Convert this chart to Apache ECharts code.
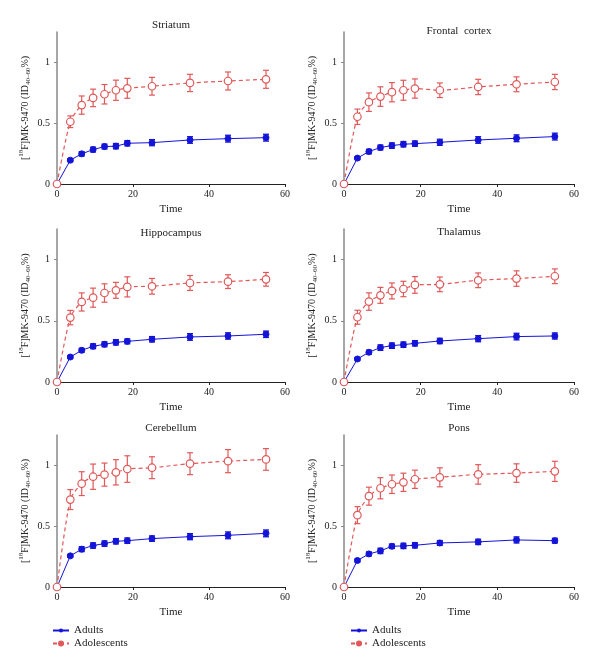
<!DOCTYPE html>
<html>
<head>
<meta charset="utf-8">
<script src="https://cdn.jsdelivr.net/npm/echarts@6/dist/echarts.min.js"></script>
<style>
  html, body { margin: 0; padding: 0; background: #fff; }
  #main { width: 600px; height: 668px; }
</style>
</head>
<body>
<div id="main"></div>
<script>
// sampling times (min)
const time = [0, 3.5, 6.5, 9.5, 12.5, 15.5, 18.5, 25, 35, 45, 55];
const regions = ["Striatum", "Frontal  cortex", "Hippocampus", "Thalamus", "Cerebellum", "Pons"];
const xTicks = [0, 20, 40, 60];
const yTicks = [0, 0.5, 1];

// adults: mean and +/- error
const adultsStriatum = [0, 0.196, 0.248, 0.283, 0.308, 0.311, 0.335, 0.34, 0.362, 0.373, 0.381];
const adultsStriatumErr = [0, 0.012, 0.018, 0.02, 0.02, 0.022, 0.022, 0.025, 0.027, 0.028, 0.028];
const adultsFrontal = [0, 0.213, 0.267, 0.3, 0.316, 0.327, 0.332, 0.343, 0.362, 0.376, 0.39];
const adultsFrontalErr = [0, 0.012, 0.018, 0.02, 0.022, 0.022, 0.022, 0.025, 0.027, 0.028, 0.028];
const adultsHippo = [0, 0.204, 0.259, 0.292, 0.308, 0.324, 0.332, 0.349, 0.368, 0.376, 0.39];
const adultsHippoErr = [0, 0.012, 0.016, 0.02, 0.02, 0.022, 0.02, 0.022, 0.027, 0.026, 0.026];
const adultsThalamus = [0, 0.188, 0.243, 0.281, 0.297, 0.305, 0.316, 0.335, 0.354, 0.371, 0.376];
const adultsThalamusErr = [0, 0.012, 0.016, 0.022, 0.022, 0.022, 0.022, 0.022, 0.025, 0.027, 0.025];
const adultsCerebellum = [0, 0.256, 0.311, 0.341, 0.357, 0.376, 0.381, 0.398, 0.414, 0.425, 0.441];
const adultsCerebellumErr = [0, 0.012, 0.02, 0.022, 0.022, 0.022, 0.022, 0.022, 0.025, 0.028, 0.028];
const adultsPons = [0, 0.218, 0.272, 0.297, 0.335, 0.338, 0.343, 0.362, 0.371, 0.387, 0.381];
const adultsPonsErr = [0, 0.012, 0.016, 0.022, 0.018, 0.022, 0.022, 0.02, 0.022, 0.025, 0.02];

// adolescents: mean and +/- error
const adolStriatum = [0, 0.512, 0.649, 0.708, 0.738, 0.771, 0.787, 0.804, 0.831, 0.847, 0.861];
const adolStriatumErr = [0, 0.048, 0.075, 0.072, 0.08, 0.083, 0.082, 0.073, 0.071, 0.074, 0.074];
const adolFrontal = [0, 0.553, 0.673, 0.719, 0.755, 0.771, 0.785, 0.771, 0.798, 0.82, 0.839];
const adolFrontalErr = [0, 0.063, 0.076, 0.08, 0.079, 0.082, 0.079, 0.06, 0.063, 0.061, 0.063];
const adolHippo = [0, 0.526, 0.654, 0.689, 0.727, 0.749, 0.777, 0.782, 0.809, 0.82, 0.839];
const adolHippoErr = [0, 0.059, 0.074, 0.078, 0.075, 0.065, 0.082, 0.064, 0.061, 0.056, 0.056];
const adolThalamus = [0, 0.529, 0.657, 0.708, 0.744, 0.76, 0.793, 0.798, 0.831, 0.845, 0.864];
const adolThalamusErr = [0, 0.057, 0.071, 0.065, 0.065, 0.063, 0.068, 0.06, 0.06, 0.063, 0.06];
const adolCerebellum = [0, 0.719, 0.85, 0.907, 0.924, 0.943, 0.97, 0.981, 1.014, 1.035, 1.049];
const adolCerebellumErr = [0, 0.082, 0.098, 0.104, 0.095, 0.104, 0.109, 0.09, 0.09, 0.095, 0.089];
const adolPons = [0, 0.591, 0.747, 0.812, 0.845, 0.861, 0.886, 0.902, 0.926, 0.937, 0.951];
const adolPonsErr = [0, 0.07, 0.074, 0.087, 0.076, 0.075, 0.075, 0.078, 0.08, 0.076, 0.083];

const adultsAll = [adultsStriatum, adultsFrontal, adultsHippo, adultsThalamus, adultsCerebellum, adultsPons];
const adultsErrAll = [adultsStriatumErr, adultsFrontalErr, adultsHippoErr, adultsThalamusErr, adultsCerebellumErr, adultsPonsErr];
const adolAll = [adolStriatum, adolFrontal, adolHippo, adolThalamus, adolCerebellum, adolPons];
const adolErrAll = [adolStriatumErr, adolFrontalErr, adolHippoErr, adolThalamusErr, adolCerebellumErr, adolPonsErr];

const font = "Liberation Serif";
const blue = "#1414d8";
const red = "#e05858";

const boxes = [
  { left: 57, top: 32, width: 228, height: 152 },
  { left: 344, top: 32, width: 230, height: 152 },
  { left: 57, top: 229, width: 228, height: 153 },
  { left: 344, top: 229, width: 230, height: 153 },
  { left: 57, top: 435, width: 228, height: 152 },
  { left: 344, top: 435, width: 230, height: 152 },
];
const titleY = [25, 31, 233, 232, 428, 428];

function errorBars(color, lw) {
  return function (params, api) {
    const x = api.value(0);
    const lo = api.coord([x, api.value(1)]);
    const hi = api.coord([x, api.value(2)]);
    const w = 3;
    const style = { stroke: color, lineWidth: lw, fill: null };
    return {
      type: "group",
      children: [
        { type: "line", shape: { x1: lo[0], y1: lo[1], x2: hi[0], y2: hi[1] }, style },
        { type: "line", shape: { x1: lo[0] - w, y1: lo[1], x2: lo[0] + w, y2: lo[1] }, style },
        { type: "line", shape: { x1: hi[0] - w, y1: hi[1], x2: hi[0] + w, y2: hi[1] }, style },
      ],
    };
  };
}

const grid = [], xAxis = [], yAxis = [], series = [], graphic = [];

boxes.forEach((b, i) => {
  grid.push(b);
  graphic.push({
    type: "text",
    x: b.left + b.width / 2,
    y: titleY[i],
    style: { text: regions[i], font: "11px " + font, fill: "#222", align: "center", verticalAlign: "middle" },
  });
  xAxis.push({
    gridIndex: i, type: "value", min: 0, max: 60, interval: 20,
    name: "Time", nameLocation: "middle", nameGap: 20,
    nameTextStyle: { fontFamily: font, fontSize: 11, color: "#222" },
    axisLine: { lineStyle: { color: "#222", width: 1 } },
    axisTick: { show: true, length: 3, lineStyle: { color: "#222" }, customValues: xTicks },
    axisLabel: { fontFamily: font, fontSize: 10, color: "#222", margin: 5, customValues: xTicks },
    splitLine: { show: false },
  });
  yAxis.push({
    gridIndex: i, type: "value", min: 0, max: 1.25, interval: 0.5,
    name: "{a|[}{s|18}{a|F]MK-9470 (ID}{b|40–60}{a|%)}",
    nameLocation: "middle", nameRotate: 90, nameGap: 25,
    nameTextStyle: {
      fontFamily: font, color: "#222",
      rich: {
        a: { fontFamily: font, fontSize: 10, color: "#222", lineHeight: 14 },
        s: { fontFamily: font, fontSize: 7, color: "#222", verticalAlign: "top", lineHeight: 14 },
        b: { fontFamily: font, fontSize: 7, color: "#222", verticalAlign: "bottom", lineHeight: 14 },
      },
    },
    axisLine: { show: true, lineStyle: { color: "#888", width: 1.5 } },
    axisTick: { show: true, length: 3, lineStyle: { color: "#888" }, customValues: yTicks },
    axisLabel: { fontFamily: font, fontSize: 10, color: "#222", margin: 7, customValues: yTicks },
    splitLine: { show: false },
  });

  const adErr = time.map((t, k) => [t, adultsAll[i][k] - adultsErrAll[i][k], adultsAll[i][k] + adultsErrAll[i][k]]).slice(1);
  const aoErr = time.map((t, k) => [t, adolAll[i][k] - adolErrAll[i][k], adolAll[i][k] + adolErrAll[i][k]]).slice(1);

  series.push({
    type: "custom", name: "adultsErr" + i, xAxisIndex: i, yAxisIndex: i,
    renderItem: errorBars(blue, 1.3), data: adErr, encode: { x: 0, y: [1, 2] }, z: 2, silent: true,
  });
  series.push({
    type: "line", name: "Adults", xAxisIndex: i, yAxisIndex: i,
    data: time.map((t, k) => [t, adultsAll[i][k]]),
    symbol: "circle", symbolSize: 6,
    itemStyle: { color: blue, borderColor: blue },
    lineStyle: { color: blue, width: 1 },
    z: 3,
  });
  series.push({
    type: "custom", name: "adolErr" + i, xAxisIndex: i, yAxisIndex: i,
    renderItem: errorBars(red, 1.2), data: aoErr, encode: { x: 0, y: [1, 2] }, z: 4, silent: true,
  });
  series.push({
    type: "line", name: "Adolescents", xAxisIndex: i, yAxisIndex: i,
    data: time.map((t, k) => [t, adolAll[i][k]]),
    smooth: 0.25,
    symbol: "circle", symbolSize: 7.5, showAllSymbol: true,
    itemStyle: { color: "#fff", borderColor: red, borderWidth: 1.2 },
    lineStyle: { color: red, width: 1.2, type: [4, 3] },
    z: 5,
  });
});

const legendBase = {
  data: [
    { name: "Adults", itemStyle: { color: blue, borderColor: blue } },
    { name: "Adolescents", itemStyle: { color: red, borderColor: red } },
  ],
  orient: "vertical", top: 625, padding: 0, itemGap: 2, itemWidth: 16, itemHeight: 5,
  textStyle: { fontFamily: font, fontSize: 11, color: "#222" },
  selectedMode: false,
};

const chart = echarts.init(document.getElementById("main"));
chart.setOption({
  backgroundColor: "#fff",
  animation: false,
  grid, xAxis, yAxis, series, graphic,
  legend: [
    Object.assign({}, legendBase, { left: 52 }),
    Object.assign({}, legendBase, { left: 350 }),
  ],
});
</script>
</body>
</html>
